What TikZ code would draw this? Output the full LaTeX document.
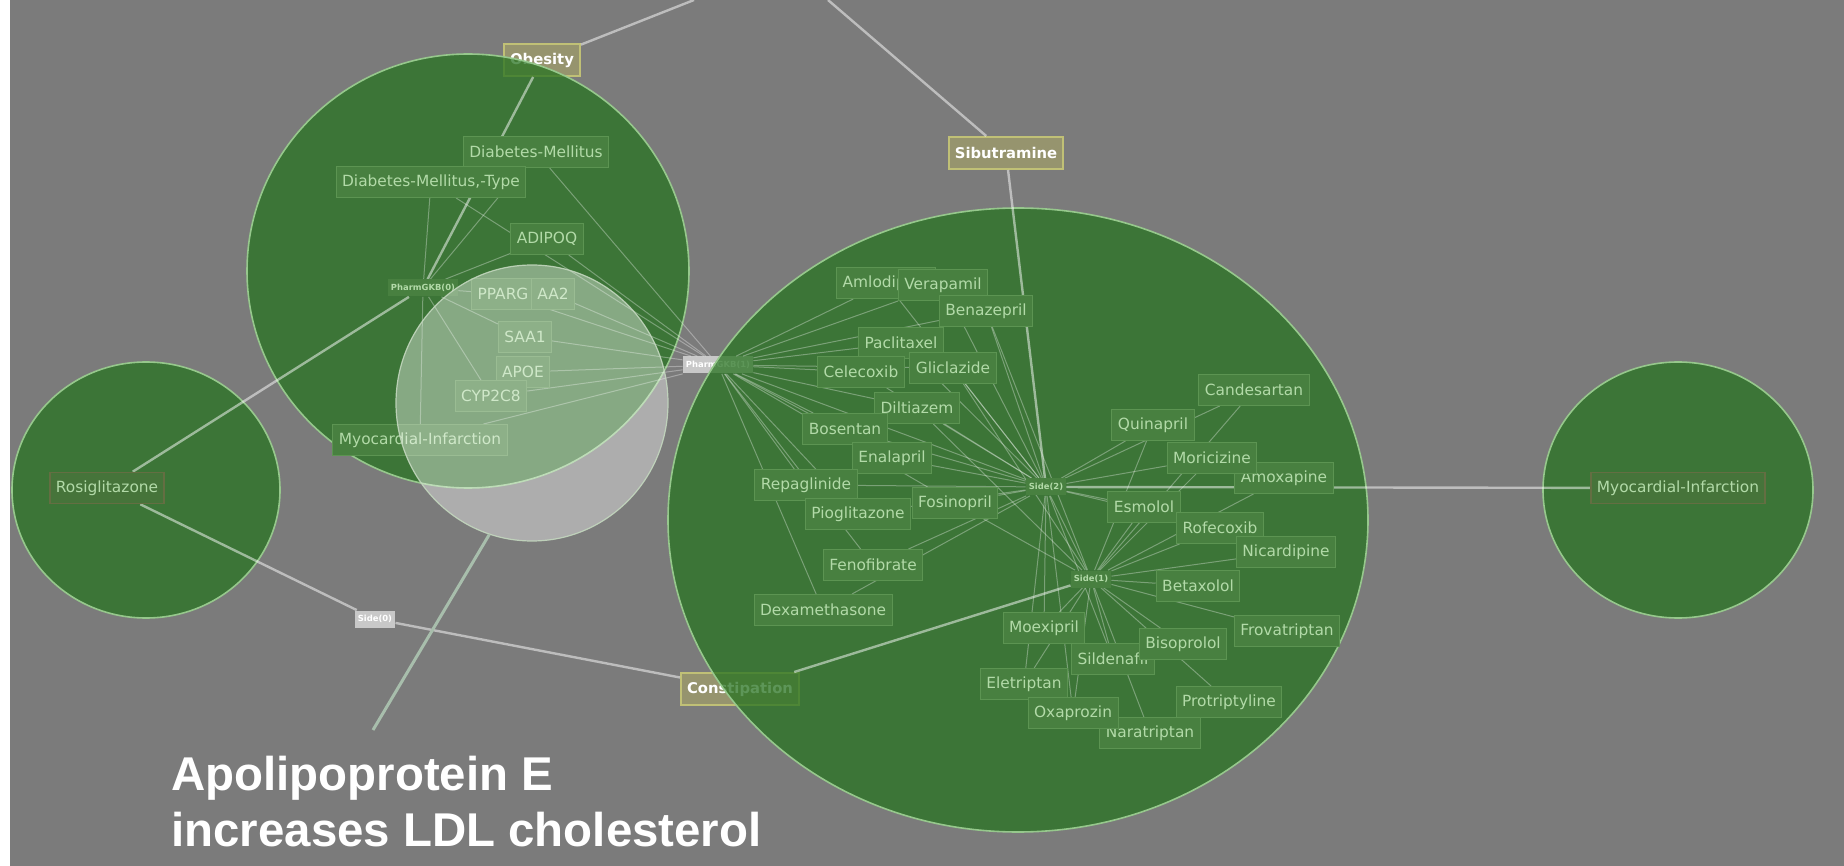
\documentclass[tikz,border=0pt]{standalone}
\usepackage{fontspec}
\setmainfont{DejaVu Sans}
\newfontfamily\capfont{Liberation Sans}
\usetikzlibrary{shapes.geometric}

\definecolor{bg}{RGB}{123,123,123}
\definecolor{zonefill}{RGB}{40,115,33}
\definecolor{zoneline}{RGB}{150,200,140}
\definecolor{lblfill}{RGB}{72,128,64}
\definecolor{lblline}{RGB}{92,148,82}
\definecolor{lbltext}{RGB}{178,218,168}
\definecolor{qfill}{RGB}{150,148,110}
\definecolor{qline}{RGB}{192,192,118}
\definecolor{tagfill}{RGB}{200,200,200}
\definecolor{qlblfill}{RGB}{70,116,58}
\definecolor{qlblline}{RGB}{100,110,66}
\definecolor{hlline}{RGB}{195,215,190}
\definecolor{pointer}{RGB}{168,190,172}

\pgfdeclarelayer{under}
\pgfdeclarelayer{zones}
\pgfdeclarelayer{wires}
\pgfdeclarelayer{front}
\pgfsetlayers{under,zones,wires,main,front}

\tikzset{
  zone/.style={ellipse, inner sep=0pt, fill=zonefill, fill opacity=0.75,
    draw=zoneline, draw opacity=1, line width=0.8pt},
  lbl/.style={rectangle, fill=lblfill, draw=lblline, line width=0.5pt,
    text=lbltext, font=\fontsize{7.7}{9}\selectfont,
    inner xsep=3pt, inner ysep=0pt, minimum height=15.5pt},
  qlbl/.style={lbl, fill=qlblfill, draw=qlblline, line width=0.8pt},
  qry/.style={rectangle, fill=qfill, draw=qline, line width=1pt, text=white,
    font=\bfseries\fontsize{7.4}{9}\selectfont,
    inner xsep=3pt, inner ysep=0pt, minimum height=16pt},
  tag/.style={rectangle, fill=tagfill, text=white,
    font=\bfseries\fontsize{4.2}{5}\selectfont,
    inner xsep=1.5pt, inner ysep=0pt, minimum height=8.5pt},
  intag/.style={tag, fill=lblfill, text=lbltext},
  wire/.style={draw=white, draw opacity=0.32, line width=0.5pt},
  link/.style={draw=white, draw opacity=0.5, line width=1.2pt},
  caption/.style={anchor=base west, inner sep=0pt, text=white,
    font=\capfont\bfseries\fontsize{23.7}{28}\selectfont}
}

\begin{document}
\begin{tikzpicture}[x=0.5pt,y=-0.5pt]
\useasboundingbox (0,0) rectangle (1844,866);

% ground and query terms lying beneath the clusters
\begin{pgfonlayer}{under}
  \fill[bg] (0,0) rectangle (1844,866);
  \fill[white] (0,0) rectangle (10,866);
  \node[qry] (obesity) at (542,60) {Obesity};
  \node[qry] (constip) at (740,689) {Constipation};
  \node[qry] (sibu) at (1006,153) {Sibutramine};
  \node[tag] (pg1) at (718,365) {PharmGKB(1)};
  \node[tag] (s0) at (375,619) {Side(0)};
  \coordinate (top1) at (694,0);
  \coordinate (top2) at (828,0);
\end{pgfonlayer}

% cluster discs
\begin{pgfonlayer}{zones}
  \node[zone, minimum width=221pt, minimum height=217pt] (cL) at (468,271) {};
  \node[zone, minimum width=134pt, minimum height=128pt] (cS) at (146,490) {};
  \node[zone, minimum width=350pt, minimum height=312pt] (cC) at (1018,520) {};
  \node[zone, minimum width=135pt, minimum height=128pt] (cR) at (1678,490) {};
\end{pgfonlayer}

% relation hubs inside the clusters
\node[intag] (pg0) at (423,288) {PharmGKB(0)};
\node[intag] (s1) at (1091,579) {Side(1)};
\node[intag] (s2) at (1046,487) {Side(2)};

% genes and diseases of the PharmGKB cluster
\node[lbl] (dm) at (536,152) {Diabetes-Mellitus};
\node[lbl] (dmt) at (431,182) {Diabetes-Mellitus,-Type};
\node[lbl] (adip) at (547,239) {ADIPOQ};
\node[lbl] (pparg) at (503,294) {PPARG};
\node[lbl] (aa2) at (553,294) {AA2};
\node[lbl] (saa1) at (525,337) {SAA1};
\node[lbl] (apoe) at (523,372) {APOE};
\node[lbl] (cyp) at (491,396) {CYP2C8};
\node[lbl] (mil) at (420,440) {Myocardial-Infarction};
\node[qlbl] (rosi) at (107,488) {Rosiglitazone};
\node[qlbl] (mir) at (1678,488) {Myocardial-Infarction};

% drugs of the side-effect cluster
\node[lbl] (amlod) at (886,283) {Amlodipine};
\node[lbl] (vera) at (943,285) {Verapamil};
\node[lbl] (bena) at (986,311) {Benazepril};
\node[lbl] (pacl) at (901,343) {Paclitaxel};
\node[lbl] (cele) at (861,372) {Celecoxib};
\node[lbl] (glic) at (953,368) {Gliclazide};
\node[lbl] (dilt) at (917,408) {Diltiazem};
\node[lbl] (bose) at (845,429) {Bosentan};
\node[lbl] (enal) at (892,458) {Enalapril};
\node[lbl] (repa) at (806,485) {Repaglinide};
\node[lbl] (piog) at (858,514) {Pioglitazone};
\node[lbl] (fosi) at (955,503) {Fosinopril};
\node[lbl] (feno) at (873,565) {Fenofibrate};
\node[lbl] (dexa) at (823,610) {Dexamethasone};
\node[lbl] (cand) at (1254,390) {Candesartan};
\node[lbl] (quin) at (1153,425) {Quinapril};
\node[lbl] (amox) at (1284,478) {Amoxapine};
\node[lbl] (mori) at (1212,458) {Moricizine};
\node[lbl] (esmo) at (1144,507) {Esmolol};
\node[lbl] (rofe) at (1220,528) {Rofecoxib};
\node[lbl] (nica) at (1286,552) {Nicardipine};
\node[lbl] (beta) at (1198,586) {Betaxolol};
\node[lbl] (frov) at (1287,631) {Frovatriptan};
\node[lbl] (moex) at (1044,628) {Moexipril};
\node[lbl] (sild) at (1113,659) {Sildenafil};
\node[lbl] (bisp) at (1183,644) {Bisoprolol};
\node[lbl] (elet) at (1024,684) {Eletriptan};
\node[lbl] (prot) at (1229,702) {Protriptyline};
\node[lbl] (nara) at (1150,733) {Naratriptan};
\node[lbl] (oxap) at (1073,713) {Oxaprozin};

% relations
\begin{pgfonlayer}{wires}
  \foreach \u/\v in {obesity/top1, top2/sibu, sibu/s2, obesity/pg0, rosi/pg0,
      rosi/s0, s0/constip, constip/s1, s2/mir}
    \draw[link] (\u) -- (\v);
  \foreach \v in {dmt, dm, adip, pparg, mil, cyp, saa1}
    \draw[wire] (pg0) -- (\v);
  \foreach \v in {dm, dmt, adip, pparg, aa2, saa1, apoe, cyp, mil, amlod, vera,
      bena, pacl, cele, glic, dilt, bose, enal, repa, piog, fosi, feno, dexa, s2}
    \draw[wire] (pg1) -- (\v);
  \foreach \v in {amlod, vera, bena, pacl, cele, glic, dilt, bose, enal, repa,
      piog, fosi, feno, dexa, quin, cand, mori, esmo, rofe, moex, elet, sild,
      oxap, s1}
    \draw[wire] (s2) -- (\v);
  \foreach \v in {quin, cand, mori, amox, esmo, rofe, nica, beta, frov, bisp,
      sild, moex, elet, oxap, nara, prot, fosi, glic, dilt, bena}
    \draw[wire] (s1) -- (\v);
\end{pgfonlayer}

% highlighted gene set and its callout
\begin{pgfonlayer}{front}
  \node[ellipse, inner sep=0pt, minimum width=136pt, minimum height=138pt,
    fill=white, fill opacity=0.38, draw=hlline, draw opacity=0.9,
    line width=0.6pt] (hl) at (532,403) {};
  \coordinate (tip) at (373,730);
  \draw[pointer, line width=1.5pt] (hl.-108) -- (tip);
  \node[caption] (capA) at (171,790) {Apolipoprotein E};
  \node[caption] (capB) at (171,846) {increases LDL cholesterol};
\end{pgfonlayer}
\end{tikzpicture}
\end{document}
